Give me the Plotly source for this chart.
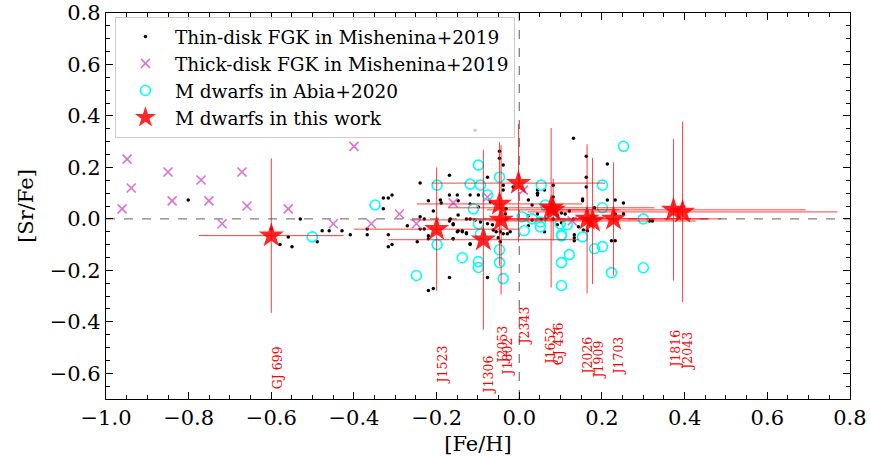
import plotly.graph_objects as go

# Thin-disk FGK stars (Mishenina+2019)
thin_feh = [-0.801, -0.530, -0.600, -0.579, -0.559, -0.550, -0.489,
            -0.477, -0.460, -0.429, -0.409, -0.368, -0.368,
            -0.329, -0.317, -0.308, -0.329, -0.317, -0.317, -0.308,
            -0.271, -0.247, -0.240, -0.240, -0.240, -0.230, -0.230,
            -0.220, -0.220, -0.220, -0.208, -0.220, -0.208, -0.189,
            -0.169, -0.169, -0.169, -0.160, -0.160, -0.169,
            -0.148, -0.138, -0.128, -0.148, -0.128, -0.119, -0.148,
            -0.119, -0.119, -0.107,
            -0.077, -0.150, -0.099, -0.191, -0.070, -0.034, -0.032, -0.032, -0.099,
            -0.167, -0.160, -0.119, -0.107, -0.094, -0.077, -0.065, -0.063, -0.056,
            -0.046, -0.039, -0.029, -0.022, -0.150, -0.138, -0.128, -0.160, -0.119,
            -0.051, -0.046, -0.077, -0.015,
            -0.048, -0.048, -0.039, -0.039, -0.039,
            0.131, 0.162, 0.162, 0.162, 0.213, 0.044, 0.044, 0.044, 0.061, 0.082,
            0.022, 0.031, 0.082, 0.153, 0.153, 0.213, 0.232, 0.252, 0.182, 0.232,
            0.121, 0.022, 0.044, 0.053, 0.063, 0.082, 0.092, 0.102, 0.111, 0.131,
            0.022, 0.031, 0.061, 0.133, 0.133, 0.133, 0.143, 0.155, 0.165, 0.223,
            0.232, 0.092, 0.102, 0.252, 0.315, 0.322]
thin_srfe = [0.073, 0.000, -0.039, -0.100, -0.070, -0.108, -0.089,
             -0.046, -0.046, -0.046, -0.062, -0.039, -0.062,
             0.081, 0.081, 0.093, 0.039, -0.062, -0.108, -0.100,
             -0.027, -0.089, 0.139, 0.008, -0.039, 0.000, -0.039,
             0.070, -0.066, -0.077, -0.271, -0.278, 0.031, 0.062,
             0.170, 0.093, -0.008, -0.023, -0.077, -0.228,
             -0.046, -0.046, -0.058, 0.070, 0.000, -0.100, 0.015,
             0.093, 0.058, 0.344,
             0.162, 0.093, 0.093, 0.073, 0.066, 0.019, 0.039, 0.000, 0.046,
             0.000, -0.019, 0.000, -0.004, -0.012, -0.019, -0.023, -0.043, -0.050,
             -0.050, -0.058, -0.058, -0.050, -0.050, -0.050, -0.054, -0.077, -0.097,
             -0.073, -0.089, -0.228, 0.124,
             0.263, 0.236, 0.209, 0.131, 0.112,
             0.313, 0.243, 0.162, 0.124, 0.213, 0.112, 0.100, 0.093, 0.112, 0.131,
             0.073, 0.054, 0.085, 0.077, 0.070, 0.073, 0.073, 0.062, 0.043, 0.019,
             0.031, 0.012, 0.019, 0.000, 0.000, 0.000, 0.012, 0.023, 0.019, 0.000,
             -0.027, -0.004, -0.050, -0.062, -0.073, -0.085, -0.031, -0.043, -0.046, -0.085,
             -0.085, -0.023, -0.015, 0.020, -0.008, -0.008]

# Thick-disk FGK stars (Mishenina+2019)
thick_feh = [-0.949, -0.939, -0.961, -0.850, -0.840, -0.770, -0.751, -0.719,
             -0.671, -0.659, -0.559, -0.400, -0.450, -0.358, -0.290, -0.249,
             -0.160, -0.077, 0.010, 0.128]
thick_srfe = [0.232, 0.120, 0.039, 0.182, 0.070, 0.151, 0.070, -0.019,
              0.182, 0.050, 0.039, 0.282, -0.019, -0.019, 0.019, -0.019,
              0.062, 0.085, 0.112, -0.008]

# M dwarfs (Abia+2020)
abia_feh = [-0.501, -0.349, -0.199, -0.249, -0.199,
            -0.099, -0.048, -0.119, -0.094, -0.111, -0.099, -0.094, 0.007, 0.012,
            -0.138, -0.099, -0.099, -0.048, -0.048, -0.039, -0.077,
            0.053, 0.252, 0.201, 0.201, 0.063, 0.031, 0.051, 0.051, 0.099, 0.116,
            0.102, 0.102, 0.153, 0.182, 0.201, 0.121, 0.102, 0.102, 0.223,
            0.300, 0.300]
abia_srfe = [-0.070, 0.054, 0.131, -0.220, -0.100,
             0.209, 0.162, 0.135, 0.131, 0.039, -0.019, -0.058, 0.008, -0.046,
             -0.151, -0.166, -0.189, -0.120, -0.170, -0.232, 0.093,
             0.131, 0.282, 0.131, 0.043, 0.054, 0.000, -0.012, -0.031, -0.019, -0.023,
             -0.062, -0.066, -0.070, -0.116, -0.108, -0.139, -0.170, -0.259, -0.209,
             0.000, -0.190]

# M dwarfs in this work
mw_names = ["GJ 699", "J1523", "J1306", "J2053", "J1802", "J2343", "J1652",
            "GJ 436", "J2026", "J1909", "J1703", "J1816", "J2043"]
mw_feh = [-0.600, -0.200, -0.087, -0.048, -0.044, -0.002, 0.077,
          0.082, 0.164, 0.177, 0.228, 0.373, 0.395]
mw_srfe = [-0.065, -0.040, -0.081, 0.058, -0.004, 0.139, 0.043,
           0.035, 0.000, -0.008, 0.000, 0.035, 0.027]
mw_feh_err = [0.175, 0.20, 0.23, 0.20, 0.22, 0.21, 0.25,
              0.16, 0.29, 0.25, 0.26, 0.32, 0.375]
mw_srfe_err = [0.30, 0.24, 0.35, 0.24, 0.29, 0.23, 0.31,
               0.12, 0.29, 0.245, 0.22, 0.275, 0.35]
# label anchor positions (centre of rotated text)
lab_x = [-0.586, -0.186, -0.075, -0.041, -0.029, 0.012, 0.075,
         0.094, 0.165, 0.191, 0.240, 0.378, 0.407]
lab_y = [-0.580, -0.568, -0.607, -0.491, -0.537, -0.417, -0.495,
         -0.487, -0.533, -0.549, -0.533, -0.506, -0.514]

FONT = "DejaVu Serif"

fig = go.Figure()

fig.add_trace(go.Scatter(
    x=thin_feh, y=thin_srfe, mode="markers",
    name="Thin-disk FGK in Mishenina+2019",
    marker=dict(color="black", size=3.5),
))
fig.add_trace(go.Scatter(
    x=thick_feh, y=thick_srfe, mode="markers",
    name="Thick-disk FGK in Mishenina+2019",
    marker=dict(symbol="x-thin", color="orchid", size=9,
                line=dict(color="orchid", width=1.6)),
))
fig.add_trace(go.Scatter(
    x=abia_feh, y=abia_srfe, mode="markers",
    name="M dwarfs in Abia+2020",
    marker=dict(symbol="circle-open", color="cyan", size=10,
                line=dict(color="cyan", width=1.6)),
))
fig.add_trace(go.Scatter(
    x=mw_feh, y=mw_srfe, mode="markers",
    name="M dwarfs in this work",
    marker=dict(symbol="star", color="rgba(255,0,0,0.85)", size=19,
                line=dict(width=0)),
    error_x=dict(type="data", array=mw_feh_err, color="rgba(255,0,0,0.75)",
                 thickness=1, width=0),
    error_y=dict(type="data", array=mw_srfe_err, color="rgba(255,0,0,0.75)",
                 thickness=1, width=0),
))

for nm, lx, ly in zip(mw_names, lab_x, lab_y):
    fig.add_annotation(x=lx, y=ly, text=nm, textangle=-90, showarrow=False,
                       xanchor="center", yanchor="middle",
                       font=dict(family=FONT, size=12.5, color="red"))

# reference lines at solar values
fig.add_hline(y=0, line=dict(color="gray", width=1.3, dash="dash"), layer="below")
fig.add_vline(x=0, line=dict(color="gray", width=1.3, dash="dash"), layer="below")

axis_common = dict(
    showgrid=False, zeroline=False, showline=True, linecolor="black", linewidth=1.3,
    mirror="allticks", ticks="inside", ticklen=7, tickwidth=1.2, tickcolor="black",
    tickfont=dict(family=FONT, size=21, color="black"),
    ticklabeloverflow="allow", automargin=False,
    minor=dict(ticks="inside", ticklen=4, tickwidth=1, tickcolor="black", showgrid=False),
)

fig.update_xaxes(range=[-1.0, 0.8001], dtick=0.2, tick0=0, tickformat=".1f",
                 minor_dtick=0.05,
                 title=dict(text="[Fe/H]", font=dict(family=FONT, size=21, color="black"),
                            standoff=6),
                 **axis_common)
fig.update_yaxes(range=[-0.7, 0.8001], dtick=0.2, tick0=0, tickformat=".1f",
                 minor_dtick=0.05,
                 title=dict(text="[Sr/Fe]", font=dict(family=FONT, size=21, color="black"),
                            standoff=10),
                 **axis_common)

fig.update_layout(
    width=871, height=458,
    margin=dict(l=106, r=21, t=13, b=59),
    paper_bgcolor="white", plot_bgcolor="white",
    font=dict(family=FONT, color="black"),
    showlegend=True,
    legend=dict(x=0.012, y=0.99, xanchor="left", yanchor="top",
                bgcolor="rgba(255,255,255,0.8)", bordercolor="#cccccc", borderwidth=1,
                font=dict(family=FONT, size=18.5, color="black"),
                itemwidth=49, tracegroupgap=2),
)

fig.write_html("out.html")
